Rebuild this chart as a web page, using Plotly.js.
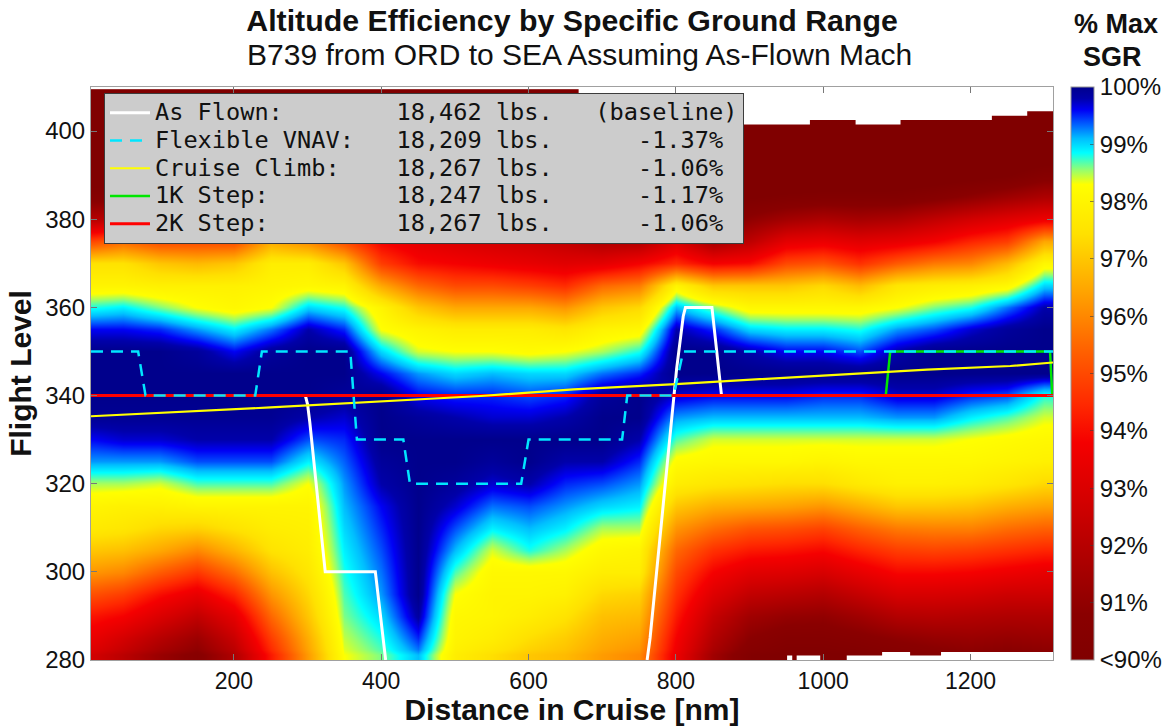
<!DOCTYPE html>
<html><head><meta charset="utf-8">
<script src="https://cdn.plot.ly/plotly-3.0.1.min.js"></script>
<style>html,body{margin:0;padding:0;background:#fff;} #chart{width:1171px;height:726px;}</style>
</head><body><div id="chart"></div>
<script>
// Distance in cruise (nm) of each sampled column
const distanceNm = [10,50,100,150,200,250,300,350,400,450,500,550,600,650,700,750,800,850,900,950,1000,1050,1100,1150,1200,1250,1300];
// Flight levels of each sampled row (bottom to top)
const flightLevels = [280,285,290,295,300,305,310,315,320,325,330,335,340,345,350,355,360,365,370,375,380,385,390,395,400,405,409];
// % of max specific ground range; one list per distance column, values from FL280 upward
const sgrColumns = [
 [92.7,93.4,94.1,95.1,96.2,97.0,97.7,98.0,98.5,99.2,99.6,99.95,100,100,100,99.6,98.8,98.0,97.5,95.0,92.0,90.5,89.5,89,89,89,89],
 [92.1,92.8,93.8,94.8,96.0,96.9,97.6,97.9,98.5,99.2,99.7,99.95,100,100,100,99.6,98.9,98.0,97.5,95.5,92.3,90.5,89.5,89,89,89,89],
 [91.2,92.0,93.0,94.0,95.3,96.5,97.3,97.9,98.4,99.2,99.7,99.95,100,100,100,99.5,98.6,97.9,97.0,95.0,92.0,90.3,89.3,89,89,89,89],
 [90.6,91.3,92.3,93.4,94.7,96.0,97.2,98.0,98.7,99.4,99.8,99.95,100,100,99.9,99.2,98.3,97.9,96.8,95.0,92.0,90.2,89.3,89,89,89,89],
 [91.8,92.5,93.3,94.4,95.6,96.7,97.5,98.0,98.7,99.4,99.8,99.95,100,100,99.6,98.9,98.1,97.9,97.0,95.0,92.0,90.2,89.3,89,89,89,89],
 [94.2,94.8,95.5,96.2,96.9,97.5,97.8,98.0,98.7,99.4,99.8,99.95,100,100,99.9,99.3,98.3,98.0,97.8,96.5,93.0,90.5,89.4,89,89,89,89],
 [96.3,96.6,97.0,97.3,97.6,97.8,97.9,98.0,98.3,98.9,99.4,99.8,100,100,100,99.8,99.0,98.1,97.8,96.0,93.0,90.8,89.5,89,89,89,89],
 [98.3,98.45,98.6,98.7,98.8,98.9,99.0,99.1,99.2,99.35,99.5,99.7,99.9,100,100,99.5,98.8,98.0,97.0,95.0,92.5,90.5,89.4,89,89,89,89],
 [98.6,98.8,99.0,99.2,99.3,99.4,99.5,99.6,99.8,99.9,100,100,100,99.6,99.0,98.3,98.0,96.5,94.8,93.8,92.0,90.3,89.3,89,89,89,89],
 [99.1,99.5,99.85,100,100,100,100,100,100,100,100,99.9,99.6,99.2,98.4,98.0,97.0,95.5,94.0,93.3,91.8,90.3,89.3,89,89,89,89],
 [97.8,98.0,98.1,98.3,98.7,99.1,99.4,99.7,99.9,100,100,99.8,99.5,99.0,98.3,97.8,96.5,95.0,93.8,93.0,91.5,90.0,89.2,89,89,89,89],
 [97.4,97.8,98.0,98.0,98.1,98.4,98.9,99.3,99.7,99.9,100,99.7,99.5,99.1,98.3,97.8,96.5,95.0,93.6,92.8,91.2,89.8,89.1,89,89,89,89],
 [97.0,97.4,97.8,98.0,98.1,98.8,99.1,99.4,99.8,100,100,99.7,99.4,99.0,98.2,97.8,96.5,94.8,93.4,92.6,91.0,89.7,89,89,89,89,89],
 [96.8,97.1,97.5,97.9,98.1,98.5,98.9,99.2,99.5,99.8,100,99.8,99.5,99.0,98.3,97.6,96.2,94.5,93.2,92.3,90.7,89.5,89,89,89,89,89],
 [96.3,96.6,96.9,97.3,97.8,98.1,98.5,99.0,99.4,99.8,100,100,99.9,99.3,98.5,98.0,97.0,95.5,93.3,91.8,90.2,89.2,89,89,89,89,89],
 [96.0,96.4,96.8,97.2,97.8,98.0,98.5,98.9,99.2,99.5,99.8,100,100,99.5,98.8,98.1,97.3,95.8,93.8,91.8,90.3,89.2,89,89,89,89,89],
 [93.5,93.8,94.2,94.6,95.0,95.5,96.2,97.0,97.8,98.2,98.7,99.2,99.7,100,100,99.8,99.1,98.0,94.5,93.0,90.8,89.5,89,89,89,89,89],
 [91.4,91.9,92.4,93.1,93.8,94.6,95.6,96.6,97.6,98.1,98.4,99.1,99.6,100,100,99.5,98.6,97.0,93.8,91.5,90.0,89.2,89,89,89,89,89],
 [90.2,90.8,91.4,92.3,93.2,94.2,95.2,96.5,97.5,98.1,98.4,99.1,99.6,100,99.8,99.0,98.1,97.0,94.0,92.2,91.0,90.0,89.2,89,89,89,89],
 [89.9,90.4,91.1,92.1,93.1,94.1,95.1,96.4,97.4,98.1,98.4,99.1,99.6,100,99.6,98.9,98.1,97.0,95.0,93.3,91.5,90.2,89.3,89,89,89,89],
 [89.9,90.4,91.0,91.9,92.9,93.9,94.9,96.2,97.4,98.0,98.4,99.1,99.5,100,99.6,98.9,98.1,97.3,95.2,93.5,91.8,90.3,89.4,89,89,89,89],
 [90.0,90.6,91.4,92.4,93.4,94.4,95.4,96.6,97.7,98.1,98.4,99.1,99.5,100,99.4,98.8,98.1,96.8,94.6,93.2,91.6,90.3,89.4,89,89,89,89],
 [90.2,90.9,91.9,92.9,93.9,94.8,95.8,97.0,97.9,98.1,98.4,99.2,99.7,100,99.8,99.2,98.3,97.6,95.3,93.4,91.8,90.3,89.5,89,89,89,89],
 [90.4,91.1,92.0,92.9,93.9,94.9,95.9,97.0,97.9,98.1,98.4,99.2,99.7,100,100,99.4,98.6,97.8,95.8,93.8,92.3,90.6,89.6,89,89,89,89],
 [90.6,91.2,91.9,92.8,93.8,94.8,95.9,96.9,97.8,98.1,98.3,98.9,99.5,100,100,99.7,98.8,97.9,96.0,94.4,92.8,91.0,89.8,89.2,89,89,89],
 [90.5,91.1,91.8,92.6,93.6,94.6,95.6,96.6,97.6,98.0,98.2,98.7,99.4,100,100,99.9,99.3,98.1,96.8,94.8,93.2,91.4,90.0,89.3,89,89,89],
 [90.6,91.2,91.8,92.6,93.4,94.4,95.4,96.4,97.3,97.9,98.1,98.4,98.8,100,100,100,99.8,99.0,98.1,96.5,93.6,91.8,90.5,89.5,89,89,89]
];
// Upper limit of the data (FL) over distance segments where no higher level was computed
const ceilingEdgesNm = [668, 982, 1044, 1105, 1229, 1277, 1312];
const ceilingFL = [401.5, 402.5, 401.5, 402.5, 403.5, 404.5];
// Lower limit of the data (FL) over distance segments
const floorEdgesNm = [951, 958, 964, 996, 1032, 1080, 1118, 1160, 1312];
const floorFL = [281, 280, 281, 280, 281, 281.8, 281, 281.8];

// Profiles
const asFlownNm = [6, 297, 300, 303, 324, 392, 406, null, 761, 765, 801, 810, 813, 849, 862, 1312];
const asFlownFL = [340, 340, 338, 334, 300, 300, 280, null, 280, 285, 346, 358, 360, 360, 340, 340];
const vnavNm = [6, 70, 80, 229, 238, 358, 367, 430, 439, 590, 600, 727, 734, 797, 810, 1312];
const vnavFL = [350, 350, 340, 340, 350, 350, 330, 330, 320, 320, 330, 330, 340, 340, 350, 350];
const climbNm = [6, 250, 535, 661, 800, 1082, 1141, 1254, 1312];
const climbFL = [335.3, 337.3, 339.9, 341.4, 342.6, 345.2, 345.9, 346.7, 347.5];
const step1kNm = [6, 1085, 1091, 1308, 1311];
const step1kFL = [340, 340, 350, 350, 340];
const step2kNm = [6, 1312];
const step2kFL = [340, 340];

const S = n => '\u00a0'.repeat(n);
const legendNames = [
 'As' + S(1) + 'Flown:' + S(8) + '18,462' + S(1) + 'lbs.' + S(3) + '(baseline)',
 'Flexible' + S(1) + 'VNAV:' + S(3) + '18,209' + S(1) + 'lbs.' + S(6) + '-1.37%',
 'Cruise' + S(1) + 'Climb:' + S(4) + '18,267' + S(1) + 'lbs.' + S(6) + '-1.06%',
 '1K' + S(1) + 'Step:' + S(9) + '18,247' + S(1) + 'lbs.' + S(6) + '-1.17%',
 '2K' + S(1) + 'Step:' + S(9) + '18,267' + S(1) + 'lbs.' + S(6) + '-1.06%'
];
const cbTickVals = [90,91,92,93,94,95,96,97,98,99,100];
const cbTickText = ['<90%','91%','92%','93%','94%','95%','96%','97%','98%','99%','100%'];

// ---- build ----
const zGrid = flightLevels.map((_, r) => sgrColumns.map(col => col[r]));
const yEdges = [flightLevels[0]];
for (let i = 0; i < flightLevels.length - 1; i++) yEdges.push((flightLevels[i] + flightLevels[i+1]) / 2);
yEdges.push(409.5);

function stepPoly(edges, levels, base) {
  const xs = [], ys = [];
  for (let i = 0; i < levels.length; i++) { xs.push(edges[i], edges[i+1]); ys.push(levels[i], levels[i]); }
  xs.push(edges[edges.length-1], edges[0]); ys.push(base, base);
  return {xs, ys};
}
const ceilPoly = stepPoly(ceilingEdgesNm, ceilingFL, 410);
const floorPoly = stepPoly(floorEdgesNm, floorFL, 280);
const big = s => '<span style="font-size:23.6px">' + s + '</span>';

const colorscale = [
 [0.00,'rgb(128,0,0)'],[0.08,'rgb(138,0,0)'],[0.18,'rgb(175,0,0)'],[0.28,'rgb(212,0,0)'],
 [0.38,'rgb(245,0,0)'],[0.445,'rgb(255,40,0)'],[0.545,'rgb(255,100,0)'],[0.645,'rgb(255,165,0)'],
 [0.744,'rgb(255,225,0)'],[0.83,'rgb(255,255,0)'],[0.855,'rgb(150,255,110)'],[0.885,'rgb(0,255,255)'],
 [0.91,'rgb(0,190,255)'],[0.935,'rgb(0,95,255)'],[0.96,'rgb(0,0,245)'],[0.98,'rgb(0,0,170)'],[1.00,'rgb(0,0,140)']
];

const FONT = 'Liberation Sans, Arial, sans-serif';
const traces = [
 {type:'heatmap', x: distanceNm, y: yEdges, z: zGrid, zmin: 90, zmax: 100, zauto: false,
  zsmooth: 'best', colorscale: colorscale, hoverinfo: 'skip', showlegend: false,
  colorbar: {x: 1.0187, xanchor: 'left', xpad: 0, y: 0.5, yanchor: 'middle', len: 1.0, lenmode: 'fraction',
   thickness: 23, ypad: 0, outlinewidth: 1, outlinecolor: 'rgb(150,150,150)',
   tickvals: cbTickVals, ticktext: cbTickText, ticks: 'inside', ticklen: 4, tickcolor: 'rgba(60,60,60,0.6)',
   tickfont: {family: FONT, size: 24, color: '#111'}}},
 {type:'scatter', x: ceilPoly.xs, y: ceilPoly.ys, mode: 'lines', fill: 'toself', fillcolor: 'white',
  line: {width: 0, color: 'rgba(0,0,0,0)'}, hoverinfo: 'skip', showlegend: false},
 {type:'scatter', x: floorPoly.xs, y: floorPoly.ys, mode: 'lines', fill: 'toself', fillcolor: 'white',
  line: {width: 0, color: 'rgba(0,0,0,0)'}, hoverinfo: 'skip', showlegend: false},
 {type:'scatter', x: asFlownNm, y: asFlownFL, mode: 'lines', name: big(legendNames[0]), legendrank: 1,
  connectgaps: false, line: {color: 'white', width: 3}},
 {type:'scatter', x: step1kNm, y: step1kFL, mode: 'lines', name: big(legendNames[3]), legendrank: 4,
  line: {color: 'rgb(0,230,0)', width: 2.5}},
 {type:'scatter', x: step2kNm, y: step2kFL, mode: 'lines', name: big(legendNames[4]), legendrank: 5,
  line: {color: 'rgb(255,0,0)', width: 3}},
 {type:'scatter', x: climbNm, y: climbFL, mode: 'lines', name: big(legendNames[2]), legendrank: 3,
  line: {color: 'rgb(255,255,0)', width: 2.2}},
 {type:'scatter', x: vnavNm, y: vnavFL, mode: 'lines', name: big(legendNames[1]), legendrank: 2,
  line: {color: 'rgb(0,230,255)', width: 2.5, dash: '12px,8px'}}
];

const layout = {
 width: 1171, height: 726,
 margin: {l: 91, r: 118, t: 87, b: 66, pad: 0, autoexpand: false},
 paper_bgcolor: 'white', plot_bgcolor: 'white',
 font: {family: FONT, color: '#111'},
 title: {text: '<b>Altitude Efficiency by Specific Ground Range</b>', font: {family: FONT, size: 30.3, color: '#111'},
  x: 0.5, xref: 'paper', xanchor: 'center', y: 1 - 20/726, yref: 'container', yanchor: 'middle'},
 xaxis: {range: [6, 1312], tick0: 0, dtick: 200, ticks: 'inside', ticklen: 6, tickcolor: 'rgb(120,120,120)',
  showline: true, linecolor: 'rgb(160,160,160)', linewidth: 1, mirror: 'ticks',
  showgrid: true, gridcolor: 'rgb(190,190,190)', zeroline: false,
  tickfont: {family: FONT, size: 23, color: '#111'}, ticklabelstandoff: 0,
  title: {text: '<b>Distance in Cruise [nm]</b>', font: {family: FONT, size: 30, color: '#111'}, standoff: 1}},
 yaxis: {range: [280, 410], tick0: 280, dtick: 20, ticks: 'inside', ticklen: 6, tickcolor: 'rgb(120,120,120)',
  showline: true, linecolor: 'rgb(160,160,160)', linewidth: 1, mirror: 'ticks',
  showgrid: true, gridcolor: 'rgb(190,190,190)', zeroline: false,
  tickfont: {family: FONT, size: 24, color: '#111'}, ticklabelstandoff: 0,
  title: {text: '<b>Flight Level</b>', font: {family: FONT, size: 30, color: '#111'}, standoff: 4}},
 legend: {x: 0.0135, y: 0.9895, xanchor: 'left', yanchor: 'top', bgcolor: 'rgb(204,204,204)',
  bordercolor: 'rgb(60,60,60)', borderwidth: 1, traceorder: 'normal', itemwidth: 40,
  font: {family: 'DejaVu Sans Mono, monospace', size: 19.0, color: '#111'}},
 annotations: [
  {text: 'B739 from ORD to SEA Assuming As-Flown Mach', xref: 'paper', yref: 'paper', x: (579-91)/962, y: (660-54)/573,
   xanchor: 'center', yanchor: 'middle', showarrow: false, font: {family: FONT, size: 30, color: '#111'}},
  {text: '<b>% Max</b>', xref: 'paper', yref: 'paper', x: (1116-91)/962, y: (660-24)/573,
   xanchor: 'center', yanchor: 'middle', showarrow: false, font: {family: FONT, size: 27, color: '#111'}},
  {text: '<b>SGR</b>', xref: 'paper', yref: 'paper', x: (1112-91)/962, y: (660-57)/573,
   xanchor: 'center', yanchor: 'middle', showarrow: false, font: {family: FONT, size: 27, color: '#111'}}
 ]
};
Plotly.newPlot('chart', traces, layout, {staticPlot: true, displayModeBar: false});
</script></body></html>
